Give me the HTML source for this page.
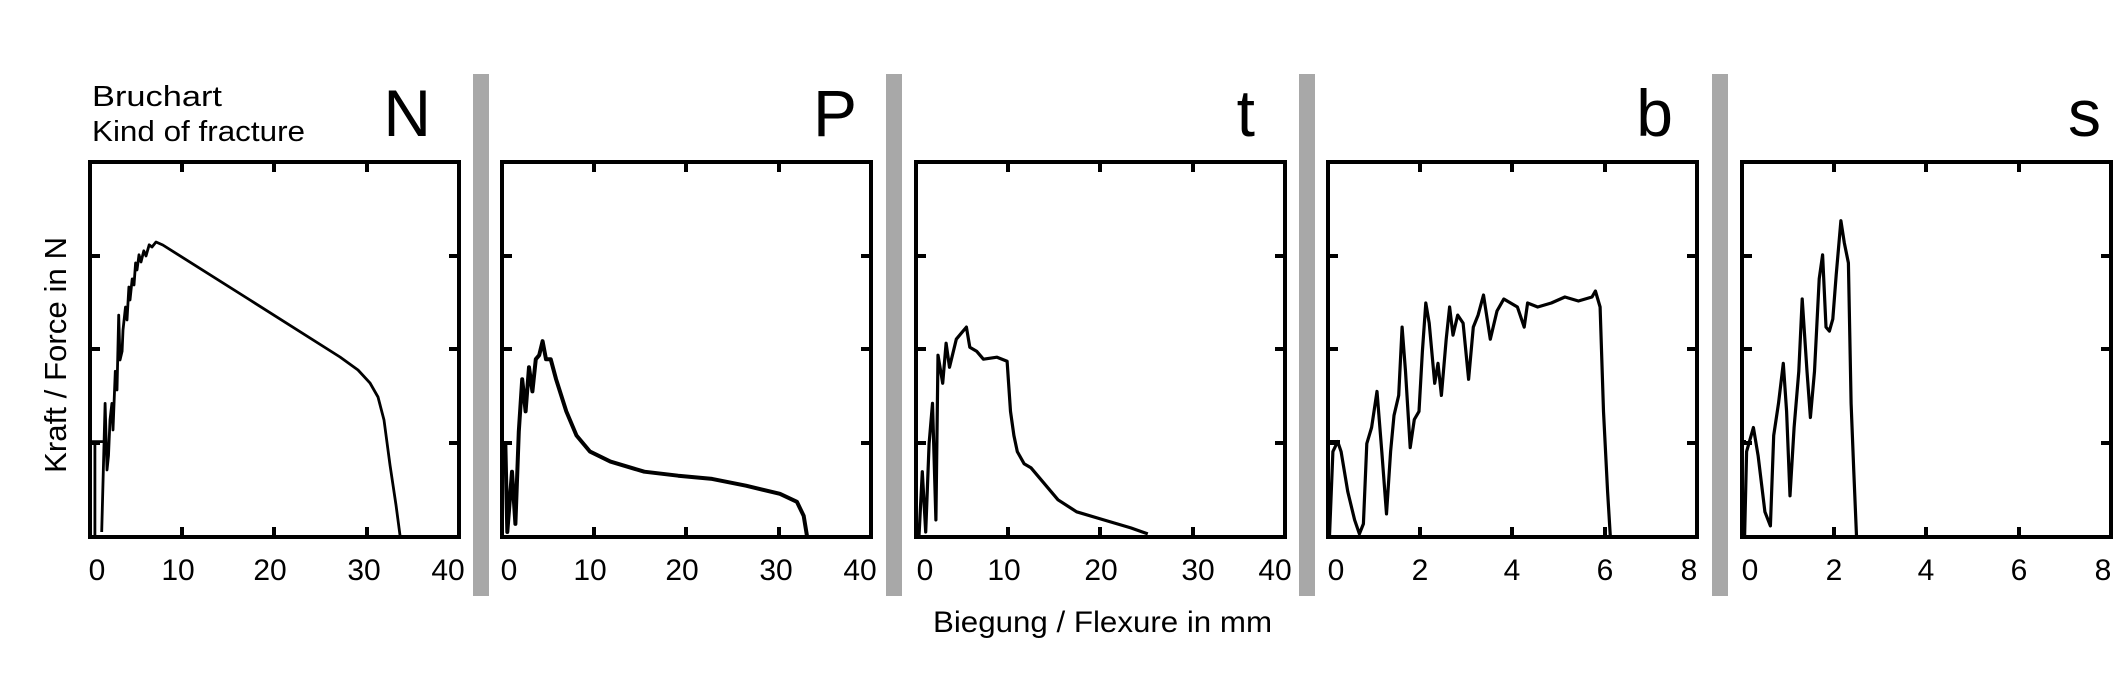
<!DOCTYPE html>
<html><head><meta charset="utf-8"><style>
html,body{margin:0;padding:0;background:#fff;}
svg{display:block;}
text{font-family:"Liberation Sans",Arial,sans-serif;fill:#000;}
</style></head><body>
<svg width="2126" height="680" viewBox="0 0 2126 680" xmlns="http://www.w3.org/2000/svg">
<rect width="2126" height="680" fill="#fff"/>
<g fill="#a8a8a8">
<rect x="473" y="74" width="16" height="522"/>
<rect x="886" y="74" width="16" height="522"/>
<rect x="1299" y="74" width="16" height="522"/>
<rect x="1712" y="74" width="16" height="522"/>
</g>
<text x="92" y="106" font-size="29" textLength="130" lengthAdjust="spacingAndGlyphs">Bruchart</text>
<text x="92" y="141" font-size="29" textLength="213" lengthAdjust="spacingAndGlyphs">Kind of fracture</text>
<g font-size="66">
<text x="431" y="136" text-anchor="end">N</text>
<text x="857" y="136" text-anchor="end">P</text>
<text x="1255" y="136" text-anchor="end">t</text>
<text x="1673" y="136" text-anchor="end">b</text>
<text x="2101" y="136" text-anchor="end">s</text>
</g>
<text transform="translate(66,355) rotate(-90)" font-size="31" text-anchor="middle" textLength="236" lengthAdjust="spacingAndGlyphs">Kraft / Force in N</text>
<text x="933" y="632" font-size="30" textLength="339" lengthAdjust="spacingAndGlyphs">Biegung / Flexure in mm</text>

<g fill="none" stroke="#000" stroke-width="4">
<rect x="90" y="162" width="369" height="375"/>
<rect x="502" y="162" width="369" height="375"/>
<rect x="916" y="162" width="369" height="375"/>
<rect x="1328" y="162" width="369" height="375"/>
<rect x="1742" y="162" width="369" height="375"/>
</g>
<g stroke="#000" stroke-width="4">
<path d="M182 162v10M274 162v10M367 162v10M182 537v-10M274 537v-10M367 537v-10M90 256h10M90 349h10M90 443h10M459 256h-10M459 349h-10M459 443h-10"/>
<path transform="translate(412,0)" d="M182 162v10M274 162v10M367 162v10M182 537v-10M274 537v-10M367 537v-10M90 256h10M90 349h10M90 443h10M459 256h-10M459 349h-10M459 443h-10"/>
<path transform="translate(826,0)" d="M182 162v10M274 162v10M367 162v10M182 537v-10M274 537v-10M367 537v-10M90 256h10M90 349h10M90 443h10M459 256h-10M459 349h-10M459 443h-10"/>
<path transform="translate(1238,0)" d="M182 162v10M274 162v10M367 162v10M182 537v-10M274 537v-10M367 537v-10M90 256h10M90 349h10M90 443h10M459 256h-10M459 349h-10M459 443h-10"/>
<path transform="translate(1652,0)" d="M182 162v10M274 162v10M367 162v10M182 537v-10M274 537v-10M367 537v-10M90 256h10M90 349h10M90 443h10M459 256h-10M459 349h-10M459 443h-10"/>
</g>
<g font-size="30" text-anchor="middle">
<text x="97" y="580">0</text><text x="178" y="580">10</text><text x="270" y="580">20</text><text x="364" y="580">30</text><text x="448" y="580">40</text>
<text x="509" y="580">0</text><text x="590" y="580">10</text><text x="682" y="580">20</text><text x="776" y="580">30</text><text x="860" y="580">40</text>
<text x="925" y="580">0</text><text x="1004" y="580">10</text><text x="1101" y="580">20</text><text x="1198" y="580">30</text><text x="1275" y="580">40</text>
<text x="1336" y="580">0</text><text x="1420" y="580">2</text><text x="1512" y="580">4</text><text x="1605" y="580">6</text><text x="1689" y="580">8</text>
<text x="1750" y="580">0</text><text x="1834" y="580">2</text><text x="1926" y="580">4</text><text x="2019" y="580">6</text><text x="2103" y="580">8</text>
</g>
<g fill="none" stroke="#000" stroke-width="3.2" stroke-linejoin="round">
<path d="M91.6 441.6H103.1M94.9 441.6V536M101.7 532L105.1 403.4L107 470L108.5 455.6L110 420L111.9 403.4L113 430L115.3 371.3L117 390L118.7 315.1L120 360L122.1 351.2L123 330L125.5 307L127 320L128.9 287L130 300L132.2 278.9L134 285L135.6 262.9L137 270L139 254.8L141 262L143.8 250.8L146 256L149.2 244.8L152 247L156 242L162.8 245L250 300L340 357L358 370L370 383L378 397L384 420L390 465L396 505L400.1 536" stroke-width="2.8"/>
<path d="M505.3 441.6L507.3 532L512 471.7L515.4 523.9L518.8 431.5L522.2 379.3L525.6 411.4L529 367.3L532.4 391.4L535.8 359.2L539.2 355.2L542.6 341.2L546 359.2L550.7 359.2L556.1 379.3L566.3 411.4L576.5 435.5L590 451.6L610.4 461.6L644.3 471.7L678.2 475.7L712.1 478.9L746 485.7L779.9 493.8L796.9 501.8L803.7 515.9L807 536" stroke-width="4"/>
<path d="M919 536L922.3 471.7L925.7 532L929.1 443.6L932.5 403.4L935.9 519.9L938 355.2L942.7 383.3L946.1 343.2L949.5 367.3L956.3 339.2L963 331.1L966.4 327.1L969.8 347.2L976.6 351.2L983.4 359.2L997 357.2L1007.1 361.2L1010.5 411.4L1013.9 435.5L1017.3 451.6L1024.1 463.7L1030.9 467.7L1044.4 483.7L1058 499.8L1076.6 511.8L1103.7 519.9L1130.8 527.9L1147.8 533.9"/>
<path d="M1329.5 536L1332.9 451.6L1337.7 441.6L1341.1 451.6L1347.8 491.8L1354.6 519.9L1359.4 533.9L1363.4 523.9L1366.8 443.6L1371.6 427.5L1377 391.4L1381.8 451.6L1386.5 513.9L1390.6 451.6L1394 415.5L1398.7 395.4L1402.1 327.1L1405.5 371.3L1410.2 447.6L1414.3 419.5L1419 411.4L1422.4 351.2L1425.8 303L1429.2 323.1L1434.7 383.3L1438 363.3L1441.4 395.4L1446.2 339.2L1449.6 307L1453 335.1L1457.7 315.1L1463.1 323.1L1468.6 379.3L1473.3 327.1L1478.1 315.1L1483.5 295L1490.3 339.2L1497 311L1503.8 299L1510.6 303L1517.4 307L1524.2 327.1L1527.6 303L1537.7 307L1551.3 303L1564.9 297L1578.4 301L1592 297L1595.4 291L1600.1 307L1603.5 411.4L1607.6 491.8L1610.3 536M1328 441.6H1340"/>
<path d="M1744.6 536L1746.6 451.6L1753.4 427.5L1758.1 455.6L1764.9 511.8L1770.4 525.9L1773.7 435.5L1778.5 403.4L1783.3 363.3L1786.6 411.4L1790 495.8L1794.1 427.5L1798.8 371.3L1802.2 299L1807 371.3L1810.4 417.5L1814.5 371.3L1819.2 278.9L1822.6 254.8L1826 327.1L1829.4 331.1L1832.8 319.1L1836.2 274.9L1840.9 220.7L1844.3 242.8L1848.4 262.9L1851.1 403.4L1853.8 471.7L1856.5 536M1742 441.6H1746"/>
</g>
</svg>
</body></html>
